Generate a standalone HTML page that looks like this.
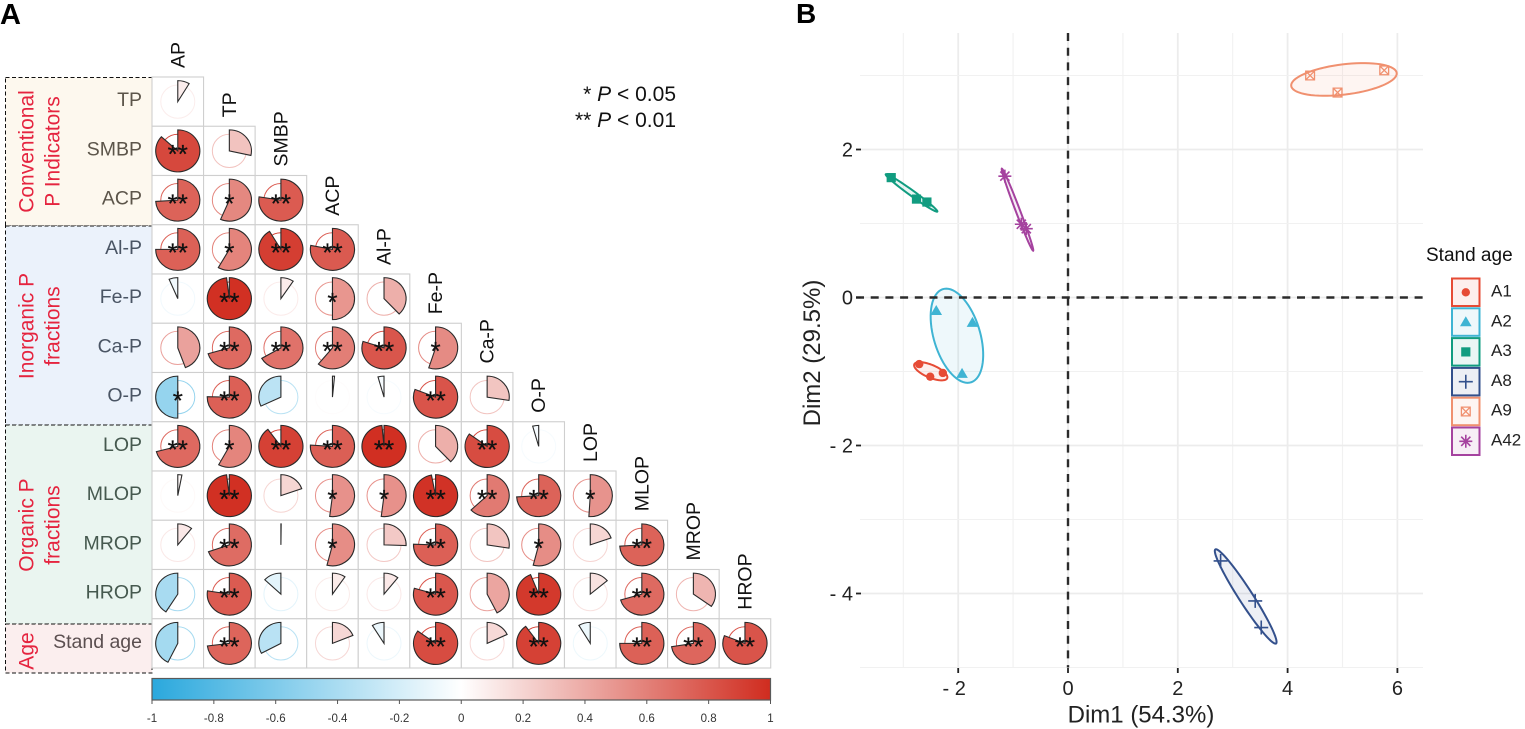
<!DOCTYPE html>
<html lang="en">
<head>
<meta charset="utf-8">
<title>Correlation matrix and PCA</title>
<style>
html,body{margin:0;padding:0;background:#fff;}
svg{display:block;font-family:"Liberation Sans",sans-serif;filter:blur(0.35px);}
</style>
</head>
<body>
<svg id="figure" xmlns="http://www.w3.org/2000/svg" width="1525" height="729" viewBox="0 0 1525 729">
  <defs>
    <linearGradient id="barGradient" x1="0" x2="1" y1="0" y2="0">
      <stop offset="0" stop-color="#2aa8dd"/>
      <stop offset="0.5" stop-color="#ffffff"/>
      <stop offset="1" stop-color="#d02c1f"/>
    </linearGradient>
  </defs>
  <text x="0" y="24" font-size="29" font-weight="bold" fill="#000">A</text>
  <text x="796" y="23" font-size="28" font-weight="bold" fill="#000">B</text>

  <g>
    <rect x="5.5" y="77.5" width="146.5" height="148.5" fill="#fdf8ee" stroke="#111" stroke-width="1" stroke-dasharray="4 2.5"/>
    <rect x="5.5" y="226" width="146.5" height="199" fill="#ebf2fb" stroke="#111" stroke-width="1" stroke-dasharray="4 2.5"/>
    <rect x="5.5" y="425" width="146.5" height="199" fill="#eaf5f0" stroke="#111" stroke-width="1" stroke-dasharray="4 2.5"/>
    <rect x="5.5" y="624" width="146.5" height="49" fill="#fbeeee" stroke="#111" stroke-width="1" stroke-dasharray="4 2.5"/>
  </g>
  <g fill="#e5243f" font-size="21" text-anchor="middle">
    <text transform="translate(33.5 151.5) rotate(-90)">Conventional</text>
    <text transform="translate(59.5 151.5) rotate(-90)">P Indicators</text>
    <text transform="translate(33.5 326) rotate(-90)">Inorganic P</text>
    <text transform="translate(59.5 326) rotate(-90)">fractions</text>
    <text transform="translate(33.5 525) rotate(-90)">Organic P</text>
    <text transform="translate(59.5 525) rotate(-90)">fractions</text>
    <text transform="translate(33.5 651) rotate(-90)">Age</text>
  </g>

  <g id="matrix"></g>

  <g font-size="21" fill="#111" text-anchor="end">
    <text x="676" y="101">* <tspan font-style="italic">P</tspan> &lt; 0.05</text>
    <text x="676" y="127">** <tspan font-style="italic">P</tspan> &lt; 0.01</text>
  </g>

  <g id="colorbar">
    <rect x="152" y="678.5" width="618.5" height="21.5" fill="url(#barGradient)" stroke="#5a5a5a" stroke-width="1.2"/>
  </g>

  <g id="pca"></g>

  <text x="1141" y="722.5" font-size="24" fill="#222" text-anchor="middle">Dim1 (54.3%)</text>
  <text transform="translate(820 353) rotate(-90)" font-size="24" fill="#222" text-anchor="middle">Dim2 (29.5%)</text>

  <g id="legend">
    <text x="1426" y="261" font-size="19" fill="#111">Stand age</text>
  </g>
</svg>

<script>
/* ---------- Panel A data ---------- */
const colLabels = ["AP","TP","SMBP","ACP","Al-P","Fe-P","Ca-P","O-P","LOP","MLOP","MROP","HROP"];
const rowLabels = ["TP","SMBP","ACP","Al-P","Fe-P","Ca-P","O-P","LOP","MLOP","MROP","HROP","Stand age"];
const rowTextColors = ["#5c554a","#5c554a","#5c554a","#4a5564","#4a5564","#4a5564","#4a5564","#46594f","#46594f","#46594f","#46594f","#5b4f50"];
const corrTP    = [0.086];
const corrSMBP  = [0.867,0.285];
const corrACP   = [0.74,0.565,0.775];
const corrAlP   = [0.75,0.583,0.914,0.78];
const corrFeP   = [-0.064,0.98,0.094,0.5,0.38];
const corrCaP   = [0.444,0.705,0.667,0.61,0.8,0.55];
const corrOP    = [-0.5,0.753,-0.32,0.015,-0.044,0.81,0.275];
const corrLOP   = [0.71,0.58,0.90,0.76,0.985,0.38,0.85,-0.044];
const corrMLOP  = [0.03,0.98,0.196,0.52,0.52,0.97,0.63,0.74,0.51];
const corrMROP  = [0.107,0.697,0.002,0.54,0.255,0.755,0.275,0.54,0.196,0.74];
const corrHROP  = [-0.41,0.775,-0.13,0.096,0.107,0.795,0.426,0.94,0.139,0.705,0.349];
const corrAge   = [-0.427,0.73,-0.328,0.188,-0.088,0.85,0.18,0.90,-0.086,0.75,0.725,0.81];
const corrRows  = [corrTP,corrSMBP,corrACP,corrAlP,corrFeP,corrCaP,corrOP,corrLOP,corrMLOP,corrMROP,corrHROP,corrAge];
const starsTP   = [0];
const starsSMBP = [2,0];
const starsACP  = [2,1,2];
const starsAlP  = [2,1,2,2];
const starsFeP  = [0,2,0,1,0];
const starsCaP  = [0,2,2,2,2,1];
const starsOP   = [1,2,0,0,0,2,0];
const starsLOP  = [2,1,2,2,2,0,2,0];
const starsMLOP = [0,2,0,1,1,2,2,2,1];
const starsMROP = [0,2,0,1,0,2,0,1,0,2];
const starsHROP = [0,2,0,0,0,2,0,2,0,2,0];
const starsAge  = [0,2,0,0,0,2,0,2,0,2,2,2];
const starRows  = [starsTP,starsSMBP,starsACP,starsAlP,starsFeP,starsCaP,starsOP,starsLOP,starsMLOP,starsMROP,starsHROP,starsAge];
const colorbarTicks = [-1,-0.8,-0.6,-0.4,-0.2,0,0.2,0.4,0.6,0.8,1];

/* ---------- Panel B data ---------- */
const groupNames = ["A1","A2","A3","A8","A9","A42"];
const groupColors = ["#e64b35","#3fb4d3","#119c80","#33508c","#f0906f","#a5429f"];
const groupShapes = ["circle","triangle","square","plus","boxx","star"];
const a1X = [-2.71,-2.51,-2.28];
const a1Y = [-0.90,-1.07,-1.02];
const a2X = [-2.40,-1.74,-1.93];
const a2Y = [-0.18,-0.34,-1.03];
const a3X = [-3.22,-2.76,-2.57];
const a3Y = [1.62,1.33,1.29];
const a8X = [2.78,3.41,3.52];
const a8Y = [-3.56,-4.10,-4.46];
const a9X = [4.41,5.76,4.91];
const a9Y = [3.00,3.07,2.77];
const a42X = [-1.15,-0.85,-0.76];
const a42Y = [1.64,0.99,0.93];
const groupXs = [a1X,a2X,a3X,a8X,a9X,a42X];
const groupYs = [a1Y,a2Y,a3Y,a8Y,a9Y,a42Y];
const xTicks = [-2,0,2,4,6];
const yTicks = [2,0,-2,-4];
const xGrid = [-3,-2,-1,0,1,2,3,4,5,6];
const yGrid = [3,2,1,0,-1,-2,-3,-4,-5];
const ellipseScale = 1.22;

/* ---------- Helpers ---------- */
const NS = "http://www.w3.org/2000/svg";
function make(parent, tag, attrs, text){
  const el = document.createElementNS(NS, tag);
  for (const k in attrs) el.setAttribute(k, attrs[k]);
  if (text !== undefined) el.textContent = text;
  parent.appendChild(el);
  return el;
}
function slug(s){ return s.toLowerCase().replace(/[^a-z0-9]+/g,'-'); }
function mix(a,b,t){
  const ch = i => Math.round(a[i]+(b[i]-a[i])*t);
  return "rgb("+ch(0)+","+ch(1)+","+ch(2)+")";
}
function corrColor(v){
  const white=[255,255,255], red=[208,44,31], blue=[42,168,221];
  return v>=0 ? mix(white,red,Math.min(1,v)) : mix(white,blue,Math.min(1,-v));
}

/* ---------- Panel A axes ---------- */
const matrixLeft = 152, cellW = 51.56, matrixTop = 77, cellH = 49.25;
const colX = i => matrixLeft + cellW*i;
const rowY = i => matrixTop + cellH*i;
const pieRx = 22.1, pieRy = 21, refRx = 17, refRy = 16.6;
const barX = v => 152 + (v+1)/2*618.5;

function piePath(cx,cy,v){
  const a = v*2*Math.PI;
  const ex = cx + pieRx*Math.sin(a), ey = cy - pieRy*Math.cos(a);
  const large = Math.abs(v)>0.5 ? 1 : 0;
  const sweep = v>=0 ? 1 : 0;
  return "M"+cx+" "+cy+"L"+cx+" "+(cy-pieRy)+"A"+pieRx+" "+pieRy+" 0 "+large+" "+sweep+" "+ex+" "+ey+"Z";
}

const matrix = document.getElementById("matrix");
colLabels.forEach(function(label,c){
  const t = make(matrix,"text",{transform:"translate("+(colX(c)+cellW/2+6.5)+" "+(rowY(c)-9)+") rotate(-90)","font-size":"19.5",fill:"#111"},label);
  
  
});
rowLabels.forEach(function(label,r){
  const t = make(matrix,"text",{x:142,y:rowY(r)+cellH/2+4.4,"font-size":"19.5",fill:rowTextColors[r],"text-anchor":"end"},label);
  
  
  corrRows[r].forEach(function(v,c){
    const cx = colX(c)+cellW/2, cy = rowY(r)+cellH/2;
    const id = slug(label)+'-'+slug(colLabels[c]);
    const g = make(matrix,"g",{});
    
    
    make(g,"rect",{x:colX(c),y:rowY(r),width:cellW,height:cellH,fill:"#fff",stroke:"#cfcfcf","stroke-width":"1.1"});
    const col = corrColor(v);
    const ref = make(g,"ellipse",{cx:cx,cy:cy,rx:refRx,ry:refRy,fill:"none",stroke:col,"stroke-width":"1"});
    
    
    const pie = make(g,"path",{d:piePath(cx,cy,v),fill:col,stroke:"#2a2a2a","stroke-width":"1.1","stroke-linejoin":"miter"});
    
    
    const s = starRows[r][c];
    if (s>0){
      const st = make(g,"text",{x:cx,y:cy+12.3,"font-size":"26",fill:"#111",stroke:"#111","stroke-width":"0.25","text-anchor":"middle"},"*".repeat(s));
      
      
    }
  });
});

const bar = document.getElementById("colorbar");
colorbarTicks.forEach(function(v){
  const tick = make(bar,"line",{x1:barX(v),x2:barX(v),y1:700,y2:704,stroke:"#555","stroke-width":"1"});
  
  
  const lab = make(bar,"text",{x:barX(v),y:722,"font-size":"11.5",fill:"#333","text-anchor":"middle"},String(v));
  
  
});

/* ---------- Panel B axes ---------- */
const xScale = v => 1068 + 54.9*v;
const yScale = v => 297.5 - 74*v;
const panelLeft = 860, panelRight = 1423, panelTop = 33, panelBottom = 667.5;
const pca = document.getElementById("pca");

xGrid.forEach(function(v){
  const major = v%2===0;
  const l = make(pca,"line",{x1:xScale(v),x2:xScale(v),y1:panelTop,y2:panelBottom,stroke:major?"#ececec":"#f1f1f1","stroke-width":major?"1.8":"1.1"});
  
  
});
yGrid.forEach(function(v){
  const major = v%2===0;
  const l = make(pca,"line",{x1:panelLeft,x2:panelRight,y1:yScale(v),y2:yScale(v),stroke:major?"#ececec":"#f1f1f1","stroke-width":major?"1.8":"1.1"});
  
  
});

groupNames.forEach(function(name,g){
  const xs = groupXs[g], ys = groupYs[g];
  const mx = (xs[0]+xs[1]+xs[2])/3, my = (ys[0]+ys[1]+ys[2])/3;
  const ax = xs[0]-mx, ay = ys[0]-my;
  const bx = (xs[1]-xs[2])/Math.sqrt(3), by = (ys[1]-ys[2])/Math.sqrt(3);
  let d = "";
  for (let i=0;i<=72;i++){
    const t = i/72*2*Math.PI;
    const px = xScale(mx + ellipseScale*(ax*Math.cos(t)+bx*Math.sin(t)));
    const py = yScale(my + ellipseScale*(ay*Math.cos(t)+by*Math.sin(t)));
    d += (i?"L":"M")+px.toFixed(2)+" "+py.toFixed(2);
  }
  const el = make(pca,"path",{d:d+"Z",fill:groupColors[g],"fill-opacity":"0.09",stroke:groupColors[g],"stroke-width":"2"});
  
  
});

function drawSymbol(parent,shape,cx,cy,color){
  const sw = {stroke:color,"stroke-width":"1.6",fill:"none"};
  if (shape==="circle") return make(parent,"circle",{cx:cx,cy:cy,r:4.2,fill:color});
  if (shape==="triangle") return make(parent,"path",{d:"M"+cx+" "+(cy-5.8)+"L"+(cx+5.8)+" "+(cy+4.2)+"L"+(cx-5.8)+" "+(cy+4.2)+"Z",fill:color});
  if (shape==="square") return make(parent,"rect",{x:cx-4.6,y:cy-4.6,width:9.2,height:9.2,fill:color});
  if (shape==="plus") return make(parent,"path",Object.assign({d:"M"+(cx-7)+" "+cy+"H"+(cx+7)+"M"+cx+" "+(cy-7)+"V"+(cy+7)},sw));
  if (shape==="boxx") return make(parent,"path",Object.assign({d:"M"+(cx-4.4)+" "+(cy-4.4)+"H"+(cx+4.4)+"V"+(cy+4.4)+"H"+(cx-4.4)+"ZL"+(cx+4.4)+" "+(cy+4.4)+"M"+(cx+4.4)+" "+(cy-4.4)+"L"+(cx-4.4)+" "+(cy+4.4)},sw,{"stroke-width":"1.3"}));
  return make(parent,"path",Object.assign({d:"M"+(cx-6.5)+" "+cy+"H"+(cx+6.5)+"M"+cx+" "+(cy-6.5)+"V"+(cy+6.5)+"M"+(cx-4.6)+" "+(cy-4.6)+"L"+(cx+4.6)+" "+(cy+4.6)+"M"+(cx+4.6)+" "+(cy-4.6)+"L"+(cx-4.6)+" "+(cy+4.6)},sw,{"stroke-width":"1.6"}));
}

groupNames.forEach(function(name,g){
  groupXs[g].forEach(function(v,i){
    const m = drawSymbol(pca,groupShapes[g],xScale(v),yScale(groupYs[g][i]),groupColors[g]);
    
    
  });
});

const hz = make(pca,"line",{x1:856,x2:panelRight,y1:yScale(0),y2:yScale(0),stroke:"#2b2b2b","stroke-width":"2.4","stroke-dasharray":"8 6.7"});


const vt = make(pca,"line",{x1:xScale(0),x2:xScale(0),y1:panelTop,y2:panelBottom,stroke:"#2b2b2b","stroke-width":"2.4","stroke-dasharray":"8 6.7"});



function tickText(v){ return v<0 ? "- "+Math.abs(v) : String(v); }
xTicks.forEach(function(v){
  const t = make(pca,"line",{x1:xScale(v),x2:xScale(v),y1:668,y2:673,stroke:"#222","stroke-width":"1.8"});
  
  
  const l = make(pca,"text",{x:xScale(v)-(v<0?4:0),y:695,"font-size":"20",fill:"#222","text-anchor":"middle"},tickText(v));
  
  
});
yTicks.forEach(function(v){
  const t = make(pca,"line",{x1:856,x2:861,y1:yScale(v),y2:yScale(v),stroke:"#222","stroke-width":"1.8"});
  
  
  const l = make(pca,"text",{x:853,y:yScale(v)+7,"font-size":"20",fill:"#222","text-anchor":"end"},tickText(v));
  
  
});

const legend = document.getElementById("legend");
groupNames.forEach(function(name,g){
  const top = 278.5 + 29.8*g;
  const key = make(legend,"rect",{x:1452,y:top,width:27.5,height:27.5,fill:groupColors[g],"fill-opacity":"0.09",stroke:groupColors[g],"stroke-width":"2"});
  
  
  const sym = drawSymbol(legend,groupShapes[g],1465.8,top+13.8,groupColors[g]);
  
  
  const lab = make(legend,"text",{x:1491,y:top+18,"font-size":"17",fill:"#222"},name);
  
  
});
</script>
</body>
</html>
